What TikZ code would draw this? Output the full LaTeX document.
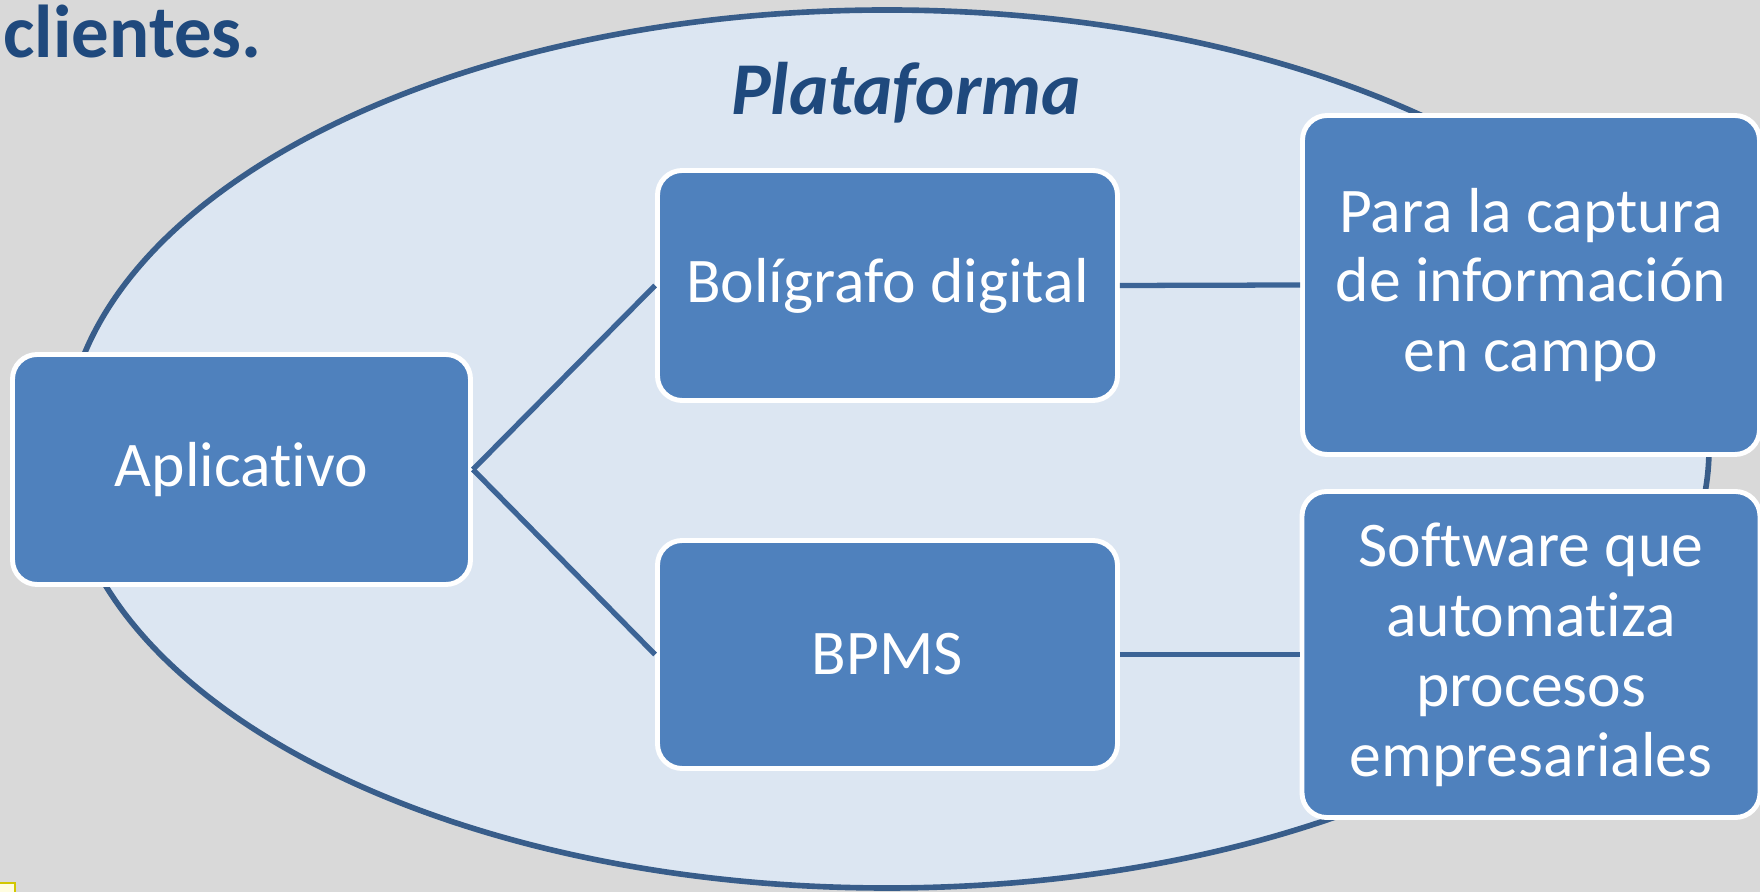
\documentclass[tikz,border=0pt]{standalone}
\usepackage{fontspec}
\setmainfont{Carlito}[RawFeature={-liga;-clig;-dlig;-calt}]
\usepackage{xcolor}
\definecolor{slidegray}{HTML}{D9D9D9}
\definecolor{ovalfill}{HTML}{DCE6F2}
\definecolor{ovalline}{HTML}{385D8A}
\definecolor{boxblue}{HTML}{4F81BD}
\definecolor{titleblue}{HTML}{1F497D}
\definecolor{linkblue}{HTML}{3C6496}

\begin{document}
\begin{tikzpicture}[
  box/.style={draw=white, line width=1.4pt, fill=boxblue, rounded corners=7pt,
    text=white, align=center, inner sep=0pt, font=\fontsize{18.1}{19.9}\selectfont},
  link/.style={draw=linkblue, line width=1.5pt}]
% Background
\clip (0,0) rectangle (17.6,8.92);
\fill[slidegray] (0,0) rectangle (17.6,8.92);
\draw[draw=yellow!60!olive, line width=0.8pt, fill=yellow!12] (-0.1,-0.1) rectangle (0.15,0.09);

% Title
\node[anchor=base west, text=titleblue, inner sep=0pt, font=\fontsize{21.3}{25}\selectfont\bfseries] (titulo) at (0.03,8.34) {clientes.};

% Plataforma
\draw[draw=ovalline, line width=1.6pt, fill=ovalfill] (8.87,4.43) ellipse (8.22 and 4.39);
\node[anchor=base, text=titleblue, inner sep=0pt, font=\fontsize{21.2}{25}\selectfont\bfseries\itshape] (plataforma) at (9.06,7.77) {Plataforma};

% Boxes
\node[box, minimum width=4.58cm, minimum height=2.30cm] (aplic) at (2.415,4.225) {Aplicativo};
\node[box, minimum width=4.60cm, minimum height=2.30cm] (boli) at (8.875,6.065) {Bolígrafo digital};
\node[box, minimum width=4.60cm, minimum height=2.28cm] (bpms) at (8.875,2.375) {BPMS};
\node[box, minimum width=4.57cm, minimum height=3.39cm] (captura) at (15.31,6.07) {Para la captura\\de información\\en campo};
\node[box, minimum width=4.58cm, minimum height=3.26cm] (soft) at (15.31,2.375) {Software que\\automatiza\\procesos\\empresariales};

% Links
\draw[link] (aplic.east) -- (boli.west);
\draw[link] (aplic.east) -- (bpms.west);
\draw[link] (boli.east) -- (captura.west);
\draw[link] (bpms.east) -- (soft.west);
\end{tikzpicture}
\end{document}
